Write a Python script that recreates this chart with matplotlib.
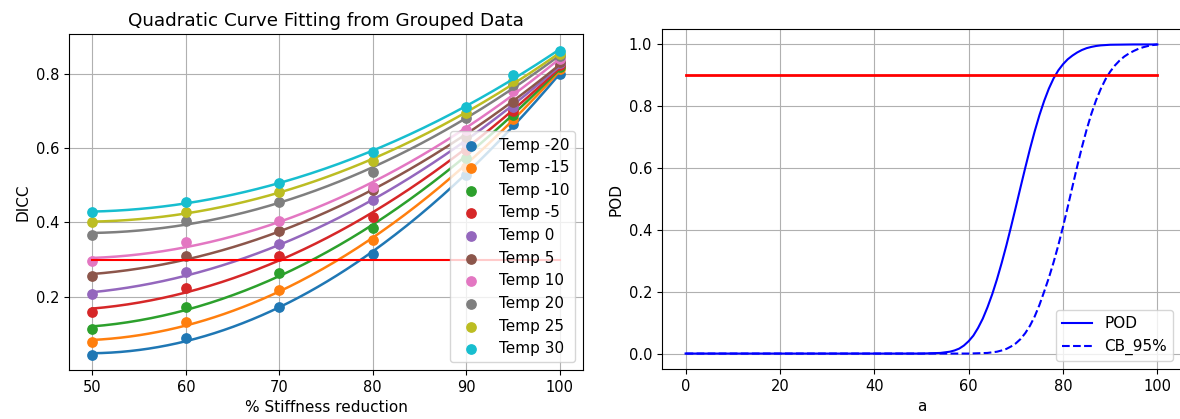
import numpy as np
import matplotlib
matplotlib.use("Agg")
import matplotlib.pyplot as plt

# ---------------- data ----------------
stiffness = [50, 60, 70, 80, 90, 95, 100]
temp_labels = ["Temp -20", "Temp -15", "Temp -10", "Temp -5", "Temp 0",
               "Temp 5", "Temp 10", "Temp 20", "Temp 25", "Temp 30"]
dicc_m20 = [0.043, 0.087, 0.172, 0.316, 0.529, 0.665, 0.800]
dicc_m15 = [0.077, 0.131, 0.217, 0.354, 0.550, 0.678, 0.813]
dicc_m10 = [0.113, 0.172, 0.264, 0.384, 0.575, 0.690, 0.820]
dicc_m5 = [0.159, 0.222, 0.309, 0.414, 0.595, 0.700, 0.826]
dicc_0 = [0.206, 0.265, 0.342, 0.460, 0.615, 0.712, 0.830]
dicc_5 = [0.255, 0.309, 0.377, 0.488, 0.630, 0.725, 0.833]
dicc_10 = [0.297, 0.346, 0.405, 0.497, 0.650, 0.755, 0.840]
dicc_20 = [0.366, 0.405, 0.455, 0.537, 0.682, 0.770, 0.848]
dicc_25 = [0.400, 0.429, 0.481, 0.567, 0.695, 0.782, 0.854]
dicc_30 = [0.428, 0.455, 0.506, 0.590, 0.712, 0.797, 0.862]
dicc_series = [dicc_m20, dicc_m15, dicc_m10, dicc_m5, dicc_0,
               dicc_5, dicc_10, dicc_20, dicc_25, dicc_30]
dicc_threshold = 0.3

a_pod = [0, 50, 52, 54, 55, 56, 57, 58, 59, 60, 61, 62, 63, 64, 65, 66, 67,
         68, 69, 70, 71, 72, 73, 74, 75, 76, 77, 78, 79, 80, 81, 82, 83, 84,
         85, 86, 87, 88, 90, 95, 100]
pod = [0.0, 0.0, 0.001, 0.002, 0.004, 0.006, 0.010, 0.016, 0.026, 0.040,
       0.058, 0.083, 0.113, 0.150, 0.192, 0.240, 0.293, 0.350, 0.411, 0.474,
       0.538, 0.601, 0.662, 0.719, 0.771, 0.817, 0.857, 0.890, 0.916, 0.936,
       0.952, 0.964, 0.974, 0.982, 0.988, 0.992, 0.995, 0.997, 0.999, 1.0,
       1.0]
a_cb = [0, 60, 62, 64, 65, 66, 67, 68, 69, 70, 71, 72, 73, 74, 75, 76, 77,
        78, 79, 80, 81, 82, 83, 84, 85, 86, 87, 88, 89, 90, 91, 92, 93, 94,
        95, 96, 97, 98, 99, 100]
cb95 = [0.0, 0.0, 0.001, 0.002, 0.004, 0.006, 0.010, 0.015, 0.023, 0.033,
        0.047, 0.066, 0.090, 0.120, 0.157, 0.200, 0.245, 0.295, 0.350, 0.410,
        0.474, 0.540, 0.605, 0.667, 0.724, 0.775, 0.819, 0.856, 0.887, 0.912,
        0.932, 0.948, 0.961, 0.971, 0.979, 0.986, 0.991, 0.995, 0.998, 1.0]
pod_threshold = 0.9

# ---------------- figure ----------------
fig = plt.figure(figsize=(11.8, 4.19), dpi=100)
ax1 = fig.add_axes([0.0585, 0.1169, 0.4356, 0.8019])
ax2 = fig.add_axes([0.561, 0.1193, 0.4398, 0.8115])

xs = np.linspace(min(stiffness), max(stiffness), 200)
for i, (lab, vals) in enumerate(zip(temp_labels, dicc_series)):
    c = f"C{i}"
    ax1.scatter(stiffness, vals, color=c, s=45, label=lab, zorder=2)
    coef = np.polyfit(stiffness, vals, 2)
    ax1.plot(xs, np.polyval(coef, xs), color=c, lw=1.8, zorder=2)
ax1.plot([min(stiffness), max(stiffness)], [dicc_threshold, dicc_threshold],
         color="red", lw=1.5, zorder=2)
ax1.set_title("Quadratic Curve Fitting from Grouped Data", fontsize=13.2)
ax1.set_xlabel("% Stiffness reduction", fontsize=11)
ax1.set_ylabel("DICC", fontsize=11)
ax1.grid(True)
ax1.set_xticks([50, 60, 70, 80, 90, 100])
ax1.set_yticks([0.2, 0.4, 0.6, 0.8])
ax1.tick_params(labelsize=10.5)
ax1.legend(loc="lower right", fontsize=11)

ax2.plot(a_pod, pod, color="blue", lw=1.5, label="POD")
ax2.plot(a_cb, cb95, color="blue", lw=1.5, ls="--", label="CB_95%")
ax2.plot([0, 100], [pod_threshold, pod_threshold], color="red", lw=2)
ax2.set_xlabel("a", fontsize=11)
ax2.set_ylabel("POD", fontsize=11)
ax2.grid(True)
ax2.tick_params(labelsize=10.5)
ax2.legend(loc="lower right", fontsize=11)

fig.savefig("out.png", dpi=100)
